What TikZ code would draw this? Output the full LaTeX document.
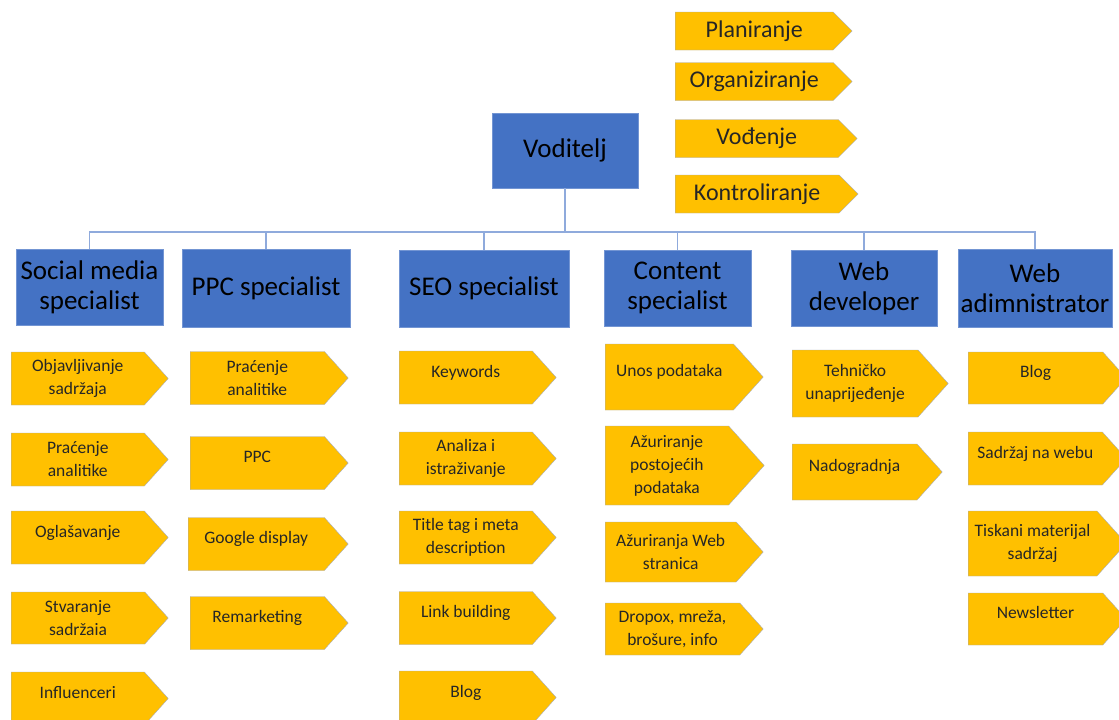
\documentclass[tikz,border=0pt]{standalone}
\usepackage{fontspec}
\setmainfont{Carlito}
\usepackage{tikz}
\usetikzlibrary{shapes}
\definecolor{org-blue}{RGB}{68,114,196}
\definecolor{org-gold}{RGB}{255,192,0}
\definecolor{org-line}{RGB}{143,170,220}
\definecolor{org-edge}{RGB}{165,172,190}

\begin{document}
\begin{tikzpicture}[
        x=1pt, y=-1pt,
        role/.style={draw=org-blue!75!white, fill=org-blue, rectangle, inner sep=2pt, align=center, text=black, font=\fontsize{27}{30}\selectfont},
        task/.style={draw=org-edge, fill=org-gold, signal, signal to=east, signal pointer angle=96, anchor=west, inner sep=2pt, align=center, text=black!85, font=\fontsize{17.5}{23}\selectfont, minimum height=53pt, minimum width=157pt},
        duty/.style={task, signal pointer angle=90, font=\fontsize{24}{26}\selectfont, minimum height=38pt, minimum width=177pt},
        oneline/.style={text height=12pt, text depth=13pt},
        conn/.style={draw=org-line, line width=1.5pt}
    ]
        \fill[white] (0,0) rectangle (1119,720);
        \useasboundingbox (0,0) rectangle (1119,720);

        % Manager and his functions
        \node[role, minimum width=146pt, minimum height=75pt] (boss) at (565,150.5) {Voditelj};
        \node[duty] (plan) at (675,31) {Planiranje};
        \node[duty] (org) at (675,81.5) {Organiziranje};
        \node[duty, minimum width=182pt] (lead) at (675,138.5) {Vođenje};
        \node[duty, minimum width=183pt] (ctrl) at (675,194) {Kontroliranje};

        % Specialists
        \node[role, minimum width=147pt, minimum height=76pt] (social) at (89.5,287) {Social media\\specialist};
        \node[role, minimum width=168pt, minimum height=78pt] (ppc) at (266,288) {PPC specialist};
        \node[role, minimum width=170pt, minimum height=77pt] (seo) at (484,288.5) {SEO specialist};
        \node[role, minimum width=147pt, minimum height=76pt] (content) at (677.5,288) {Content\\specialist};
        \node[role, minimum width=146pt, minimum height=76pt] (webdev) at (864,288) {Web\\developer};
        \node[role, minimum width=154pt, minimum height=78pt] (webadm) at (1035,288) {Web\\adimnistrator};

        % Org lines
        \coordinate (bus) at (565,232);
        \draw[conn] (boss.south) -- (bus);
        \foreach \n in {social,ppc,seo,content,webdev,webadm}
            \draw[conn] (bus) -| (\n.north);

        % Social media tasks
        \node[task] (s1) at (11,378.5) {Objavljivanje\\sadržaja};
        \node[task] (s2) at (11,459.5) {Praćenje\\analitike};
        \node[task, oneline] (s3) at (11,537.5) {Oglašavanje};
        \node[task, minimum height=52pt] (s4) at (11,618) {Stvaranje\\sadržaia};
        \node[task, oneline] (s5) at (11,698.5) {Influenceri};

        % PPC tasks
        \node[task, minimum width=158pt] (p1) at (190,378) {Praćenje\\analitike};
        \node[task, oneline, minimum width=158pt] (p2) at (190,463) {PPC};
        \node[task, oneline, minimum width=160pt] (p3) at (188,544) {Google display};
        \node[task, oneline, minimum width=158pt] (p4) at (190,623) {Remarketing};

        % SEO tasks
        \node[task, oneline] (e1) at (399,377.5) {Keywords};
        \node[task] (e2) at (399,458.5) {Analiza i\\istraživanje};
        \node[task] (e3) at (399,537.5) {Title tag i meta\\description};
        \node[task, oneline] (e4) at (399,618) {Link building};
        \node[task, oneline] (e5) at (399,697.5) {Blog};

        % Content tasks
        \node[task, oneline, minimum width=158pt, minimum height=66pt] (c1) at (605,377) {Unos podataka};
        \node[task, minimum width=159pt, minimum height=79pt] (c2) at (605,465.5) {Ažuriranje\\postojećih\\podataka};
        \node[task, minimum width=158pt, minimum height=60pt] (c3) at (605,552) {Ažuriranja Web\\stranica};
        \node[task, minimum width=158pt, minimum height=52pt] (c4) at (605,629) {Dropox, mreža,\\brošure, info};

        % Web developer tasks
        \node[task, minimum width=156pt, minimum height=67pt] (w1) at (792,383.5) {Tehničko\\unaprijeđenje};
        \node[task, oneline, minimum width=150pt, minimum height=56pt] (w2) at (792,472) {Nadogradnja};

        % Web administrator tasks
        \node[task, oneline, minimum width=158pt, minimum height=52pt] (a1) at (968,378) {Blog};
        \node[task, oneline, minimum width=158pt] (a2) at (968,458.5) {Sadržaj na webu};
        \node[task, minimum width=158pt, minimum height=65pt] (a3) at (968,543.5) {Tiskani materijal\\sadržaj};
        \node[task, oneline, minimum width=158pt, minimum height=52pt] (a4) at (968,619) {Newsletter};
\end{tikzpicture}
\end{document}
